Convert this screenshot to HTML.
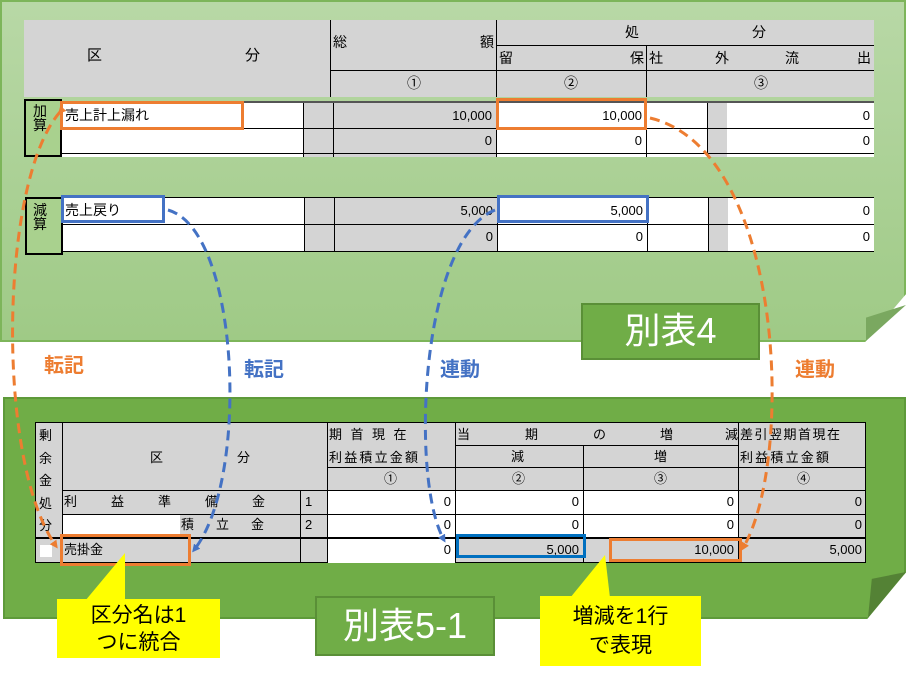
<!DOCTYPE html>
<html><head><meta charset="utf-8"><style>
body{margin:0;width:909px;height:676px;background:#fff;position:relative;overflow:hidden;font-family:"Liberation Sans","Noto Sans CJK JP",sans-serif;}
.a{position:absolute;box-sizing:border-box;}
.t{position:absolute;box-sizing:border-box;font-size:13px;line-height:1;white-space:nowrap;color:#000;}
.g{background:#d4d4d4;}
.w{background:#fff;}
.n{text-align:right;padding-right:4px;}
</style></head><body>
<div class="a" style="left:0;top:0;width:906px;height:342px;background:linear-gradient(#b8d8a6,#9fca86);border:2px solid #7db55a;clip-path:polygon(0 0,100% 0,100% 86%,95.5% 100%,0 100%);"></div>
<div class="a" style="left:866px;top:305px;width:40px;height:36px;background:#7aa860;clip-path:polygon(100% 0,0 100%,0 35%);"></div>

<div class="a g" style="left:24px;top:20px;width:850px;height:77px;"></div>
<div class="a" style="left:330px;top:20px;width:1px;height:77px;background:#000"></div>
<div class="a" style="left:496px;top:20px;width:1px;height:77px;background:#000"></div>
<div class="a" style="left:646px;top:45px;width:1px;height:52px;background:#000"></div>
<div class="a" style="left:496px;top:45px;width:378px;height:1px;background:#000"></div>
<div class="a" style="left:330px;top:70px;width:544px;height:1px;background:#000"></div>
<div class="t" style="left:87px;top:48px;font-size:15px">区</div>
<div class="t" style="left:245px;top:48px;font-size:15px">分</div>
<div class="t" style="left:333px;top:35px;font-size:14px">総</div>
<div class="t" style="left:480px;top:35px;font-size:14px">額</div>
<div class="t" style="left:625px;top:25px;font-size:14px">処</div>
<div class="t" style="left:752px;top:25px;font-size:14px">分</div>
<div class="t" style="left:499px;top:51px;font-size:14px">留</div>
<div class="t" style="left:630px;top:51px;font-size:14px">保</div>
<div class="t" style="left:649px;top:51px;font-size:14px">社</div>
<div class="t" style="left:715px;top:51px;font-size:14px">外</div>
<div class="t" style="left:785px;top:51px;font-size:14px">流</div>
<div class="t" style="left:857px;top:51px;font-size:14px">出</div>
<div class="t" style="left:407px;top:76px;font-size:14px">①</div>
<div class="t" style="left:564px;top:76px;font-size:14px">②</div>
<div class="t" style="left:754px;top:76px;font-size:14px">③</div>

<div class="a" style="left:24px;top:99px;width:38px;height:58px;border:2px solid #000;background:#a9d18e"></div>
<div class="t" style="left:33px;top:104px;font-size:14px">加<br>算</div>
<div class="a" style="left:62px;top:101px;width:812px;height:2px;background:#555"></div>
<div class="a w" style="left:62px;top:103px;width:812px;height:54px;"></div>
<div class="a g" style="left:303px;top:103px;width:30px;height:54px"></div>
<div class="a g" style="left:333px;top:103px;width:163px;height:54px"></div>
<div class="a g" style="left:707px;top:103px;width:20px;height:54px"></div>
<div class="a" style="left:62px;top:128px;width:812px;height:1px;background:#000"></div>
<div class="a" style="left:62px;top:153px;width:812px;height:1px;background:#000"></div>
<div class="a" style="left:303px;top:103px;width:1px;height:54px;background:#000"></div>
<div class="a" style="left:333px;top:103px;width:1px;height:54px;background:#000"></div>
<div class="a" style="left:496px;top:103px;width:1px;height:54px;background:#000"></div>
<div class="a" style="left:646px;top:103px;width:1px;height:54px;background:#000"></div>
<div class="a" style="left:707px;top:103px;width:1px;height:54px;background:#000"></div>
<div class="t" style="left:65px;top:108px;font-size:14px">売上計上漏れ</div>
<div class="t n" style="left:333px;top:109px;width:163px">10,000</div>
<div class="t n" style="left:496px;top:109px;width:150px">10,000</div>
<div class="t n" style="left:727px;top:109px;width:147px">0</div>
<div class="t n" style="left:333px;top:134px;width:163px">0</div>
<div class="t n" style="left:496px;top:134px;width:150px">0</div>
<div class="t n" style="left:727px;top:134px;width:147px">0</div>

<div class="a" style="left:25px;top:197px;width:38px;height:58px;border:2px solid #000;background:#a9d18e"></div>
<div class="t" style="left:33px;top:203px;font-size:14px">減<br>算</div>
<div class="a w" style="left:63px;top:197px;width:811px;height:55px;border-top:1px solid #000;border-bottom:1px solid #000"></div>
<div class="a g" style="left:304px;top:198px;width:30px;height:53px"></div>
<div class="a g" style="left:334px;top:198px;width:163px;height:53px"></div>
<div class="a g" style="left:708px;top:198px;width:20px;height:53px"></div>
<div class="a" style="left:63px;top:224px;width:811px;height:1px;background:#000"></div>
<div class="a" style="left:304px;top:198px;width:1px;height:53px;background:#000"></div>
<div class="a" style="left:334px;top:198px;width:1px;height:53px;background:#000"></div>
<div class="a" style="left:497px;top:198px;width:1px;height:53px;background:#000"></div>
<div class="a" style="left:647px;top:198px;width:1px;height:53px;background:#000"></div>
<div class="a" style="left:708px;top:198px;width:1px;height:53px;background:#000"></div>
<div class="t" style="left:65px;top:203px;font-size:14px">売上戻り</div>
<div class="t n" style="left:334px;top:204px;width:163px">5,000</div>
<div class="t n" style="left:497px;top:204px;width:150px">5,000</div>
<div class="t n" style="left:728px;top:204px;width:146px">0</div>
<div class="t n" style="left:334px;top:230px;width:163px">0</div>
<div class="t n" style="left:497px;top:230px;width:150px">0</div>
<div class="t n" style="left:728px;top:230px;width:146px">0</div>

<div class="a" style="left:60px;top:101px;width:184px;height:29px;border:3px solid #ed7d31"></div>
<div class="a" style="left:496px;top:98px;width:151px;height:32px;border:3px solid #ed7d31"></div>
<div class="a" style="left:61px;top:195px;width:104px;height:28px;border:3px solid #4472c4"></div>
<div class="a" style="left:497px;top:195px;width:152px;height:28px;border:3px solid #4472c4"></div>

<div class="a" style="left:581px;top:303px;width:179px;height:57px;background:#70ad47;border:2px solid #5a8f37;color:#fff;font-size:36px;text-align:center;line-height:52px">別表4</div>

<div class="t" style="left:44px;top:356px;font-size:20px;font-weight:bold;color:#ed7d31">転記</div>
<div class="t" style="left:244px;top:360px;font-size:20px;font-weight:bold;color:#4472c4">転記</div>
<div class="t" style="left:440px;top:360px;font-size:20px;font-weight:bold;color:#4472c4">連動</div>
<div class="t" style="left:795px;top:360px;font-size:20px;font-weight:bold;color:#ed7d31">連動</div>

<div class="a" style="left:3px;top:397px;width:903px;height:222px;background:#70ad47;border:2px solid #5e9a3a;clip-path:polygon(0 0,100% 0,100% 79%,95.7% 100%,0 100%);"></div>
<div class="a" style="left:868px;top:572px;width:38px;height:46px;background:#548235;clip-path:polygon(100% 0,0 100%,10% 15%);"></div>

<div class="a g" style="left:35px;top:422px;width:831px;height:141px;border:1px solid #000"></div>
<div class="a w" style="left:327px;top:490px;width:411px;height:48px"></div>
<div class="a w" style="left:62px;top:514px;width:118px;height:24px"></div>
<div class="a w" style="left:327px;top:538px;width:128px;height:25px"></div>
<div class="a" style="left:62px;top:422px;width:1px;height:141px;background:#000"></div>
<div class="a" style="left:327px;top:422px;width:1px;height:141px;background:#000"></div>
<div class="a" style="left:455px;top:422px;width:1px;height:141px;background:#000"></div>
<div class="a" style="left:583px;top:445px;width:1px;height:118px;background:#000"></div>
<div class="a" style="left:738px;top:422px;width:1px;height:141px;background:#000"></div>
<div class="a" style="left:300px;top:490px;width:1px;height:73px;background:#000"></div>
<div class="a" style="left:455px;top:445px;width:283px;height:1px;background:#000"></div>
<div class="a" style="left:327px;top:467px;width:539px;height:1px;background:#000"></div>
<div class="a" style="left:62px;top:490px;width:804px;height:1px;background:#000"></div>
<div class="a" style="left:62px;top:514px;width:804px;height:1px;background:#000"></div>
<div class="a" style="left:35px;top:537px;width:831px;height:2px;background:#000"></div>
<div class="t" style="left:39px;top:425px;font-size:13px;line-height:22.5px">剰<br>余<br>金<br>処<br>分</div>
<div class="a w" style="left:40px;top:545px;width:12px;height:12px"></div>
<div class="t" style="left:150px;top:451px">区</div>
<div class="t" style="left:237px;top:451px">分</div>
<div class="t" style="left:329px;top:428px;letter-spacing:8.5px">期首現在</div>
<div class="t" style="left:329px;top:451px;letter-spacing:2.2px">利益積立金額</div>
<div class="t" style="left:384px;top:472px">①</div>
<div class="t" style="left:457px;top:428px">当</div>
<div class="t" style="left:525px;top:428px">期</div>
<div class="t" style="left:593px;top:428px">の</div>
<div class="t" style="left:660px;top:428px">増</div>
<div class="t" style="left:725px;top:428px">減</div>
<div class="t" style="left:511px;top:450px">減</div>
<div class="t" style="left:654px;top:450px">増</div>
<div class="t" style="left:512px;top:472px">②</div>
<div class="t" style="left:654px;top:472px">③</div>
<div class="t" style="left:740px;top:428px;letter-spacing:1.5px">差引翌期首現在</div>
<div class="t" style="left:740px;top:451px;letter-spacing:2.2px">利益積立金額</div>
<div class="t" style="left:797px;top:472px">④</div>
<div class="t" style="left:64px;top:495px;letter-spacing:34px">利益準備金</div>
<div class="t" style="left:305px;top:495px">1</div>
<div class="t" style="left:181px;top:518px;letter-spacing:22px">積立金</div>
<div class="t" style="left:305px;top:518px">2</div>
<div class="t" style="left:64px;top:543px">売掛金</div>
<div class="t n" style="left:327px;top:495px;width:128px">0</div>
<div class="t n" style="left:455px;top:495px;width:128px">0</div>
<div class="t n" style="left:583px;top:495px;width:155px">0</div>
<div class="t n" style="left:738px;top:495px;width:128px">0</div>
<div class="t n" style="left:327px;top:518px;width:128px">0</div>
<div class="t n" style="left:455px;top:518px;width:128px">0</div>
<div class="t n" style="left:583px;top:518px;width:155px">0</div>
<div class="t n" style="left:738px;top:518px;width:128px">0</div>
<div class="t n" style="left:327px;top:543px;width:128px">0</div>
<div class="t n" style="left:455px;top:543px;width:128px">5,000</div>
<div class="t n" style="left:583px;top:543px;width:155px">10,000</div>
<div class="t n" style="left:738px;top:543px;width:128px">5,000</div>

<div class="a" style="left:60px;top:534px;width:131px;height:32px;border:3px solid #ed7d31"></div>
<div class="a" style="left:456px;top:534px;width:130px;height:24px;border:3px solid #0070c0"></div>
<div class="a" style="left:609px;top:538px;width:133px;height:24px;border:3px solid #ed7d31"></div>

<svg class="a" style="left:0;top:0" width="909" height="676">
<polygon points="85,601 125,553 125,601" fill="#ffff00"/>
<polygon points="570,598 605,555 610,598" fill="#ffff00"/>
<defs>
<marker id="mo" markerWidth="8" markerHeight="8" refX="5" refY="4" orient="auto" markerUnits="userSpaceOnUse"><path d="M0,0 L8,4 L0,8 z" fill="#ed7d31"/></marker>
<marker id="mb" markerWidth="8" markerHeight="8" refX="5" refY="4" orient="auto" markerUnits="userSpaceOnUse"><path d="M0,0 L8,4 L0,8 z" fill="#4472c4"/></marker>
</defs>
<g fill="none" stroke-width="3" stroke-dasharray="10,6">
<path d="M60,112 C0,180 -5,460 56,546" stroke="#ed7d31" marker-end="url(#mo)" marker-start="url(#mo)"/>
<path d="M168,210 C240,230 250,480 194,550" stroke="#4472c4" marker-end="url(#mb)"/>
<path d="M495,210 C420,240 410,480 444,540" stroke="#4472c4" marker-end="url(#mb)"/>
<path d="M650,118 C785,150 795,460 743,548" stroke="#ed7d31" marker-end="url(#mo)"/>
</g>
</svg>
<div class="a" style="left:57px;top:599px;width:163px;height:59px;background:#ffff00;font-size:21px;text-align:center;line-height:27px;padding-top:3px">区分名は1<br>つに統合</div>
<div class="a" style="left:540px;top:596px;width:161px;height:70px;background:#ffff00;font-size:21px;text-align:center;line-height:29px;padding-top:6px">増減を1行<br>で表現</div>
<div class="a" style="left:315px;top:596px;width:180px;height:60px;background:#70ad47;border:2px solid #5a8f37;color:#fff;font-size:36px;text-align:center;line-height:56px">別表5-1</div>
</body></html>
